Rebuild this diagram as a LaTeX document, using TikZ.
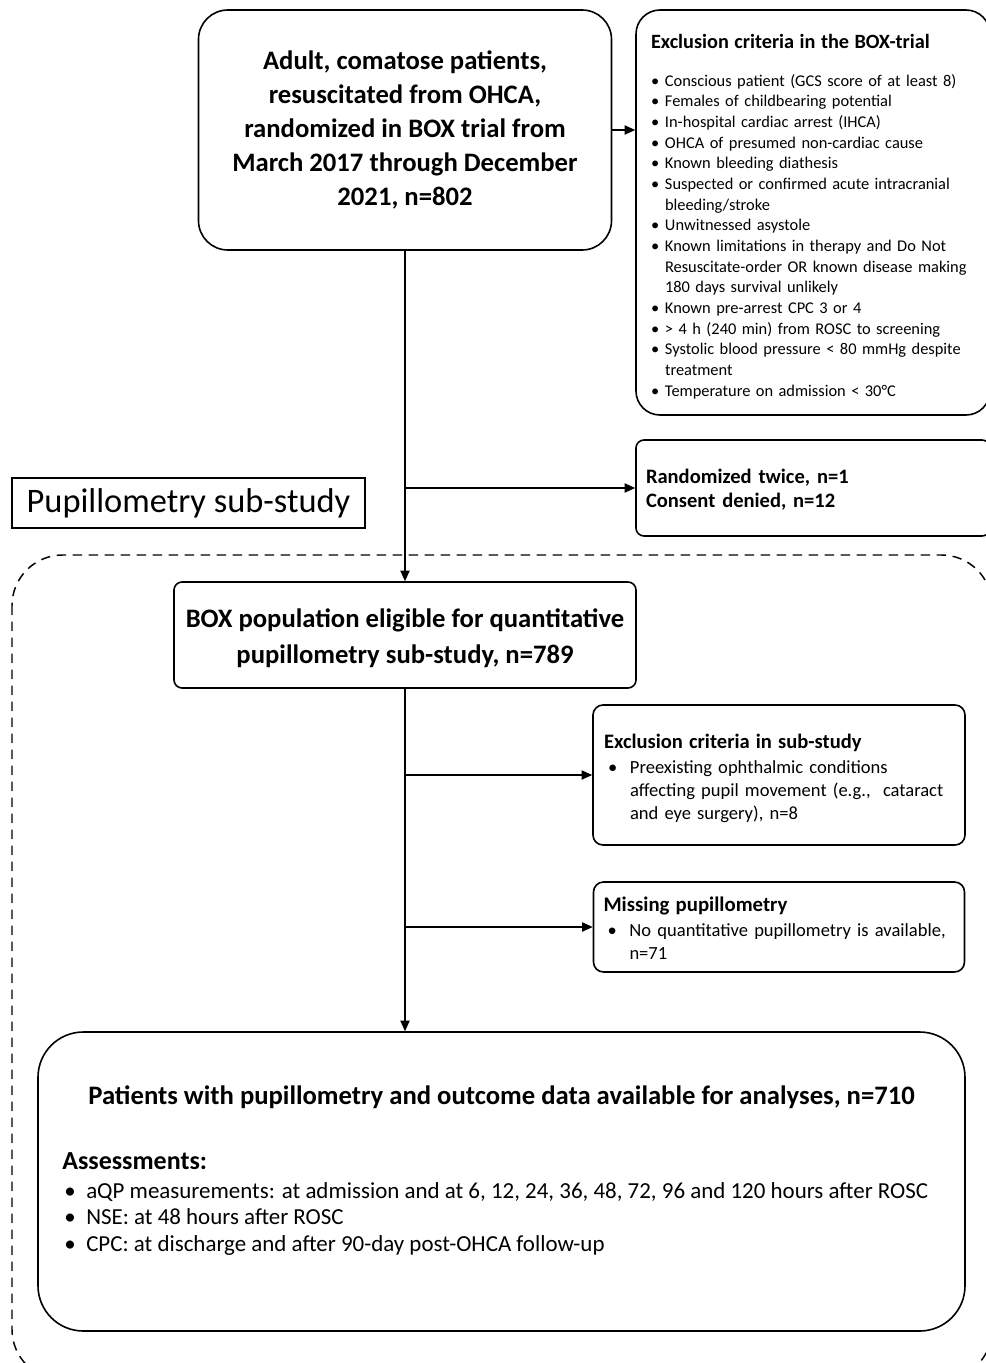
\documentclass[tikz,border=0pt]{standalone}
\usepackage{fontspec}
\setmainfont{Carlito}
\usetikzlibrary{arrows.meta}

\tikzset{
  flowbox/.style={draw, line width=1.2pt, inner sep=0pt},
  arrowline/.style={line width=0.9pt, -{Triangle[length=8pt,width=7pt]}},
}
\newcommand{\bitem}{\makebox[10.5pt][l]{\textbullet}}
\newcommand{\subbul}{\makebox[16.5pt][l]{\textbullet}}

\begin{document}
\begin{tikzpicture}[x=0.75pt,y=0.75pt,yscale=-1,xscale=1]
\useasboundingbox (0,0) rectangle (985,1363);

%Shape: dashed frame round the sub-study
\draw[dash pattern=on 7pt off 5pt, line width=1.1pt, rounded corners=38pt] (12,555) rectangle (992,1380);

%Shape: first box
\node[flowbox, rounded corners=22pt, minimum width=309.75pt, minimum height=180pt, align=center,
  font=\bfseries\fontsize{20}{25.5}\selectfont] (top) at (405,130)
  {Adult, comatose patients,\\resuscitated from OHCA,\\randomized in BOX trial from\\March 2017 through December\\2021, n=802};

%Shape: exclusion criteria of the trial
\node[flowbox, rounded corners=18pt, text width=243pt, inner xsep=11.25pt, minimum height=303.75pt, align=left,
  font=\fontsize{12.3}{15.5}\selectfont] (trialexcl) at (813,212.5)
  {{\bfseries\fontsize{15.2}{15.5}\selectfont\rule{0pt}{16.4pt}Exclusion criteria in the BOX-trial}\\[13.1pt]
   \bitem Conscious patient (GCS score of at least 8)\\
   \bitem Females of childbearing potential\\
   \bitem In-hospital cardiac arrest (IHCA)\\
   \bitem OHCA of presumed non-cardiac cause\\
   \bitem Known bleeding diathesis\\
   \bitem Suspected or confirmed acute intracranial\\
   \hspace*{10.5pt}bleeding/stroke\\
   \bitem Unwitnessed asystole\\
   \bitem Known limitations in therapy and Do Not\\
   \hspace*{10.5pt}Resuscitate-order OR known disease making\\
   \hspace*{10.5pt}180 days survival unlikely\\
   \bitem Known pre-arrest CPC 3 or 4\\
   \bitem > 4 h (240 min) from ROSC to screening\\
   \bitem Systolic blood pressure < 80 mmHg despite\\
   \hspace*{10.5pt}treatment\\
   \bitem Temperature on admission < 30°C};

%Shape: randomized twice / consent denied
\node[flowbox, rounded corners=6pt, text width=250.5pt, inner xsep=7.5pt, minimum height=72pt, align=left,
  font=\bfseries\fontsize{15.4}{18}\selectfont] (randbox) at (813,488)
  {\rule{0pt}{13.9pt}Randomized twice, n=1\\Consent denied, n=12};

% Text Node: title of the sub-study
\node[draw, line width=1.1pt, minimum width=264.75pt, minimum height=37.5pt, inner sep=0pt,
  font=\fontsize{25.8}{30}\selectfont] (subtitle) at (188.5,503) {Pupillometry sub-study};

%Shape: eligible population
\node[flowbox, rounded corners=6pt, minimum width=346.5pt, minimum height=79.5pt, align=center,
  font=\bfseries\fontsize{20}{27}\selectfont] (boxpop) at (405,635)
  {\rule{0pt}{19.4pt}BOX population eligible for quantitative\\pupillometry sub-study, n=789};

%Shape: exclusion criteria of the sub-study
\node[flowbox, rounded corners=7.5pt, text width=262.5pt, inner xsep=8.25pt, minimum height=105pt, align=left,
  font=\fontsize{13.9}{17.25}\selectfont] (subexcl) at (779,775)
  {{\bfseries\fontsize{15.4}{17.25}\selectfont\rule{0pt}{15.4pt}Exclusion criteria in sub-study}\\[1.5pt]
   \hspace*{3pt}\subbul Preexisting ophthalmic conditions\\
   \hspace*{19.5pt}affecting pupil movement (e.g.,\ \ cataract\\
   \hspace*{19.5pt}and eye surgery), n=8};

%Shape: missing pupillometry
\node[flowbox, rounded corners=7.5pt, text width=263.25pt, inner xsep=7.5pt, minimum height=67.5pt, align=left,
  font=\fontsize{13.9}{17.25}\selectfont] (missing) at (779,927)
  {{\bfseries\fontsize{15.6}{17.25}\selectfont\rule{0pt}{12.5pt}Missing pupillometry}\\[2pt]
   \hspace*{3pt}\subbul No quantitative pupillometry is available,\\
   \hspace*{19.5pt}n=71};

%Shape: final population
\node[flowbox, rounded corners=34pt, minimum width=695.25pt, minimum height=224.25pt] (final) at (501.5,1181.5) {};
% Text Node
\node[font=\bfseries\fontsize{20}{24}\selectfont, inner sep=0pt] (finaltitle) at (501.5,1097)
  {Patients with pupillometry and outcome data available for analyses, n=710};
% Text Node
\node[anchor=west, font=\bfseries\fontsize{19.5}{24}\selectfont, inner sep=0pt] (assesshead) at (62,1161) {Assessments:};
% Text Node
\node[anchor=north west, align=left, font=\fontsize{17.2}{19.9}\selectfont, inner sep=0pt] (assesslist) at (64,1182)
  {\subbul aQP measurements: at admission and at 6, 12, 24, 36, 48, 72, 96 and 120 hours after ROSC\\
   \subbul NSE: at 48 hours after ROSC\\
   \subbul CPC: at discharge and after 90-day post-OHCA follow-up};

%Straight Lines: connectors
\draw[arrowline] (top.east) -- (top.east -| trialexcl.west);
\draw[arrowline] (top.south) -- (boxpop.north);
\coordinate (split1) at (top.south |- randbox.west);
\draw[arrowline] (split1) -- (randbox.west);
\draw[arrowline] (boxpop.south) -- (boxpop.south |- final.north);
\coordinate (split2) at (boxpop.south |- subexcl.west);
\draw[arrowline] (split2) -- (subexcl.west);
\coordinate (split3) at (boxpop.south |- missing.west);
\draw[arrowline] (split3) -- (missing.west);

\end{tikzpicture}
\end{document}
